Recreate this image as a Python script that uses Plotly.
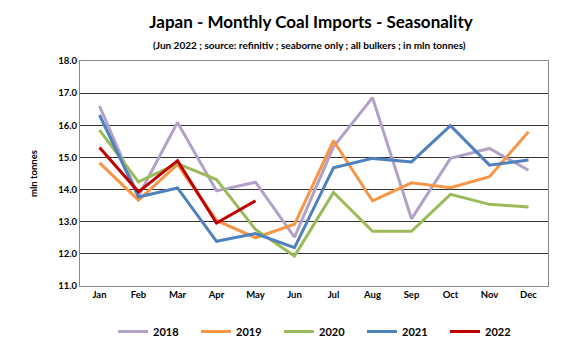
import plotly.graph_objects as go

months = ["Jan","Feb","Mar","Apr","May","Jun","Jul","Aug","Sep","Oct","Nov","Dec"]
y2018 = [16.60,13.80,16.09,13.96,14.23,12.52,15.33,16.86,13.09,14.97,15.28,14.60]
y2019 = [14.83,13.67,14.78,13.04,12.50,12.92,15.52,13.65,14.21,14.06,14.40,15.80]
y2020 = [15.85,14.24,14.81,14.31,12.76,11.93,13.91,12.70,12.70,13.85,13.54,13.46]
y2021 = [16.32,13.77,14.05,12.39,12.63,12.19,14.68,14.97,14.86,15.99,14.76,14.92]
y2022 = [15.31,13.93,14.90,12.96,13.65]
series = [("2018", y2018, "#B3A2C7"), ("2019", y2019, "#F79646"),
          ("2020", y2020, "#9BBB59"), ("2021", y2021, "#4F81BD"),
          ("2022", y2022, "#C00000")]
yticks = [11.0,12.0,13.0,14.0,15.0,16.0,17.0,18.0]

FONT = "Lato"
fig = go.Figure()
for name, vals, col in series:
    fig.add_trace(go.Scatter(x=months[:len(vals)], y=vals, name=f"<b>{name}</b>", mode="lines",
                             line=dict(color=col, width=3)))

fig.update_layout(
    width=580, height=350,
    margin=dict(l=80, r=32, t=61, b=64, autoexpand=False),
    paper_bgcolor="white", plot_bgcolor="white",
    font=dict(family=FONT, size=9, color="black"),
    title=dict(text="<b>Japan - Monthly Coal Imports - Seasonality</b>",
               x=311/580, xanchor="center", xref="container", yref="container", y=1-22/350, yanchor="middle",
               font=dict(family=FONT, size=17, color="black")),
    annotations=[dict(text="<b>(Jun 2022 ; source: refinitiv ; seaborne only ; all bulkers ; in mln tonnes)</b>",
                      xref="paper", yref="paper", x=(309-80)/468, y=(286-45)/225, xanchor="center", yanchor="middle",
                      showarrow=False, font=dict(family=FONT, size=10, color="black"))],
    showlegend=True,
    legend=dict(orientation="h", x=(113-80)/468, xanchor="left", y=-(317-286)/225, yanchor="top",
                entrywidth=38, entrywidthmode="pixels",
                font=dict(family=FONT, size=11, color="black"), traceorder="normal"),
    xaxis=dict(type="category", range=[-0.5, 11.5], showgrid=False, showline=True, linecolor="#888", mirror=True,
               ticks="", tickfont=dict(family=FONT, size=9.5), tickprefix="<b>", ticksuffix="</b>"),
    yaxis=dict(range=[11, 18], tickvals=yticks, ticktext=[f"<b>{v:.1f}</b>" for v in yticks],
               showgrid=True, gridcolor="#333", gridwidth=1, showline=True, linecolor="#888", mirror=True,
               zeroline=False, ticks="", tickfont=dict(family=FONT, size=9.5),
               title=dict(text="<b>mln tonnes</b>", font=dict(family=FONT, size=9.5), standoff=18)),
)
fig.write_html("out.html")
